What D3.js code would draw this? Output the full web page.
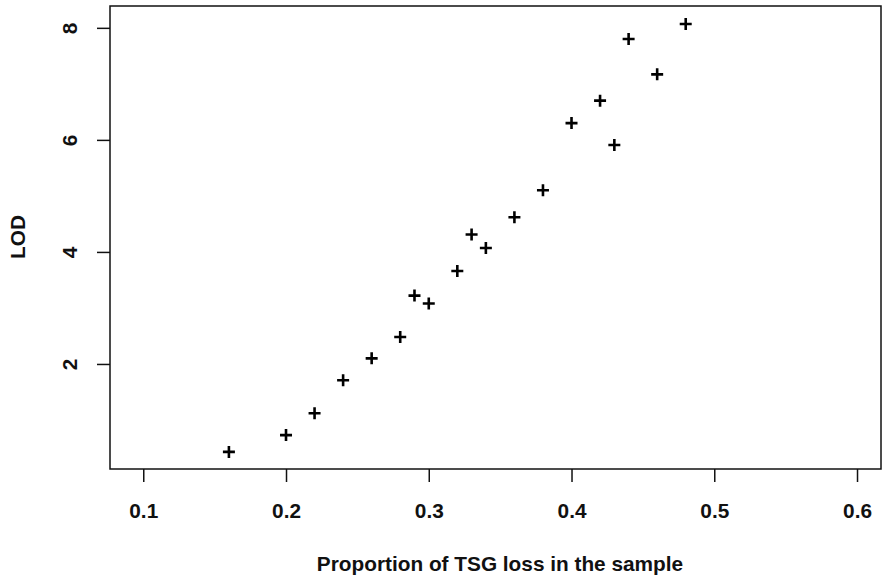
<!DOCTYPE html>
<html>
<head>
<meta charset="utf-8">
<script src="https://cdn.jsdelivr.net/npm/d3@7"></script>
<style>
  body { margin: 0; background: #fff; }
  text { font-family: "Liberation Sans", Arial, sans-serif; fill: #111; }
</style>
</head>
<body>
<svg id="chart" width="882" height="577"></svg>
<script>
// data
const proportion = [0.16, 0.20, 0.22, 0.24, 0.26, 0.28, 0.29, 0.30, 0.32, 0.33,
                    0.34, 0.36, 0.38, 0.40, 0.42, 0.43, 0.44, 0.46, 0.48];
const lod = [0.43, 0.73, 1.12, 1.71, 2.10, 2.48, 3.22, 3.08, 3.66, 4.31,
             4.07, 4.62, 5.10, 6.30, 6.70, 5.91, 7.80, 7.17, 8.07];
const xTicks = [0.1, 0.2, 0.3, 0.4, 0.5, 0.6];
const yTicks = [2, 4, 6, 8];

const svg = d3.select("#chart");
const plotLeft = 110, plotTop = 6, plotRight = 881, plotBottom = 469;
const fontSize = 20.8;

const x = d3.scaleLinear().domain([0.0767, 0.6168]).range([plotLeft, plotRight]);
const y = d3.scaleLinear().domain([0.125, 8.39]).range([plotBottom, plotTop]);

// x axis
const gx = svg.append("g")
    .attr("transform", `translate(0,${plotBottom})`)
    .call(d3.axisBottom(x).tickValues(xTicks).tickSize(13).tickPadding(21)
        .tickFormat(d3.format(".1f")));
gx.select(".domain").remove();
gx.selectAll("line").attr("stroke", "#111").attr("stroke-width", 1.5);
gx.selectAll("text").attr("font-size", fontSize).attr("font-weight", "bold").attr("fill", "#111");

// y axis, labels turned like base R
const gy = svg.append("g")
    .attr("transform", `translate(${plotLeft},0)`)
    .call(d3.axisLeft(y).tickValues(yTicks).tickSize(13).tickFormat(d3.format("d")));
gy.select(".domain").remove();
gy.selectAll("line").attr("stroke", "#111").attr("stroke-width", 1.5);
gy.selectAll("text")
    .attr("x", null)
    .attr("text-anchor", "middle")
    .attr("transform", "translate(-40,0) rotate(-90)")
    .attr("dy", "0.35em")
    .attr("font-size", fontSize).attr("font-weight", "bold").attr("fill", "#111");

// frame
svg.append("rect")
    .attr("x", plotLeft).attr("y", plotTop)
    .attr("width", plotRight - plotLeft).attr("height", plotBottom - plotTop)
    .attr("fill", "none").attr("stroke", "#111").attr("stroke-width", 1.5);

// plus markers
const s = 6;
svg.append("g").selectAll("path")
    .data(proportion.map((p, i) => [p, lod[i]]))
    .join("path")
    .attr("d", d => {
        const cx = x(d[0]), cy = y(d[1]);
        return `M${cx - s},${cy}H${cx + s}M${cx},${cy - s}V${cy + s}`;
    })
    .attr("stroke", "#000").attr("stroke-width", 2.6).attr("fill", "none");

// axis titles
svg.append("text")
    .attr("x", 500).attr("y", 571)
    .attr("text-anchor", "middle")
    .attr("font-size", fontSize).attr("font-weight", "bold")
    .text("Proportion of TSG loss in the sample");

svg.append("text")
    .attr("transform", "translate(25,237) rotate(-90)")
    .attr("text-anchor", "middle")
    .attr("font-size", fontSize).attr("font-weight", "bold")
    .text("LOD");
</script>
</body>
</html>
